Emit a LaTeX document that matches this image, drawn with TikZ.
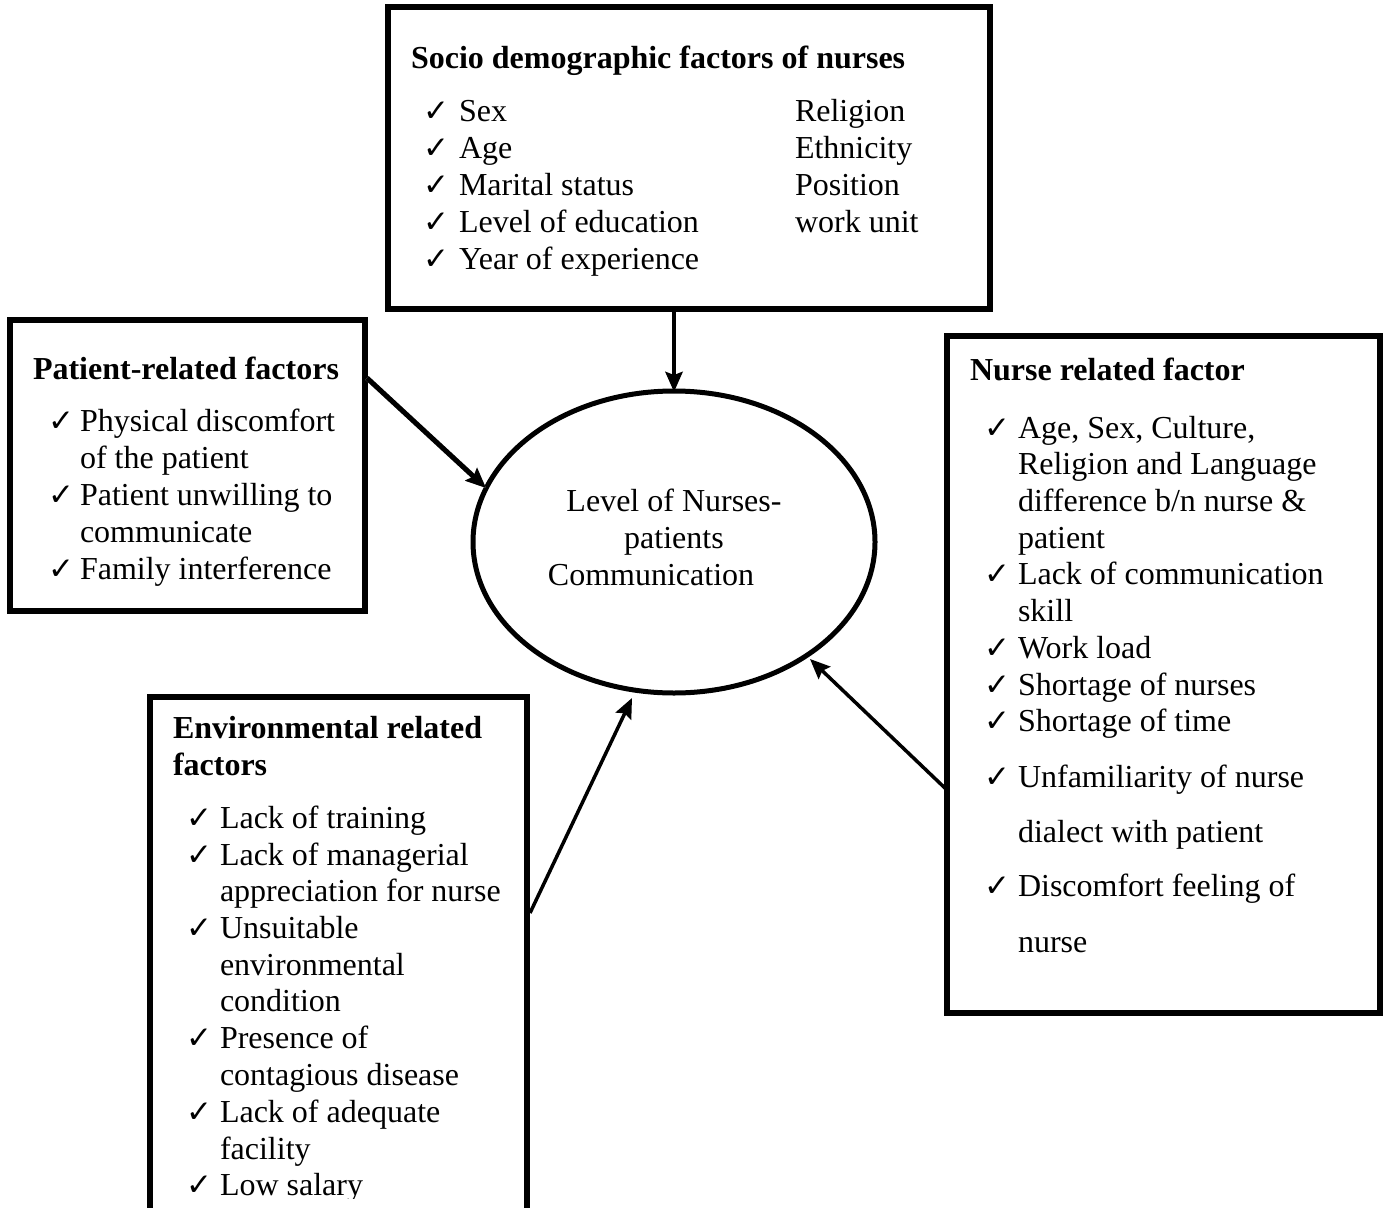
\documentclass[tikz,border=0pt]{standalone}
\usepackage{fontspec}
\setmainfont{Liberation Serif}
\newfontfamily\symf{DejaVu Sans}
\usetikzlibrary{arrows.meta,shapes.geometric}
\tikzset{
  box/.style={draw=black,line width=6pt},
  txt/.style={inner sep=0pt,outer sep=0pt,anchor=base west,font=\fontsize{32}{37}\selectfont},
  ttl/.style={txt,font=\fontsize{32}{37}\selectfont\bfseries},
  ctxt/.style={txt,anchor=base},
  ck/.style={txt,font=\fontsize{31}{37}\selectfont\symf\bfseries},
  conn/.style={line width=3.5pt,-{Stealth[length=20pt,width=17pt,inset=3pt]}},
}
\newcommand\tline[4]{\node[txt] (#1) at (#2,#3) {#4};}
\newcommand\cmark[3]{\node[ck] (#1) at (#2,#3) {✓};}
\begin{document}
\begin{tikzpicture}[x=1pt,y=-1pt]
\clip (0,0) rectangle (1383,1207);
\fill[white] (0,0) rectangle (1383,1207);
% boxes
\draw[box] (388,7) rectangle (990,309);
\coordinate (topbot) at (674,309);
\draw[box] (10,320) rectangle (365,611);
\draw[box] (947,336) rectangle (1380,1013);
\draw[box] (150,697) rectangle (527,1240);
% ellipse
\node[draw,line width=5pt,ellipse,minimum width=402pt,minimum height=302pt,inner sep=0pt] (ell) at (674,542) {};
% connector endpoints
\coordinate (ptA) at (367,378);
\coordinate (ptB) at (486,488);
\coordinate (enA) at (530,913);
\coordinate (enB) at (632,698);
\coordinate (nuA) at (947,790);
\coordinate (nuB) at (810,659);
\coordinate (tpB) at (674,392);
% connectors
\draw[conn,line width=4.5pt] (topbot) -- (tpB);
\draw[conn,line width=5pt,gray!55,shift={(-2.5pt,-3pt)}] (ptA) -- (ptB);
\draw[conn,line width=5pt] (ptA) -- (ptB);
\draw[conn] (enA) -- (enB);
\draw[conn] (nuA) -- (nuB);
\begin{scope}[yshift=-2pt]
\node[ctxt] (e1) at (674,509) {Level of Nurses-};
\node[ctxt] (e2) at (674,546) {patients};
\node[ctxt] (e3) at (651,583) {Communication};
% top box
\node[ttl] (t0) at (411,67) {Socio demographic factors of nurses};
\cmark{tc1}{423}{119}\tline{tt1}{459}{119}{Sex}
\cmark{tc2}{423}{156}\tline{tt2}{459}{156}{Age}
\cmark{tc3}{423}{193}\tline{tt3}{459}{193}{Marital status}
\cmark{tc4}{423}{230}\tline{tt4}{459}{230}{Level of education}
\cmark{tc5}{423}{267}\tline{tt5}{459}{267}{Year of experience}
\tline{tr1}{795}{119}{Religion}
\tline{tr2}{795}{156}{Ethnicity}
\tline{tr3}{795}{193}{Position}
\tline{tr4}{795}{230}{work unit}
% patient box
\node[ttl] (p0) at (33,377) {Patient-related factors};
\cmark{pc1}{48}{429}\tline{pt1}{80}{429}{Physical discomfort}
\tline{pt2}{80}{466}{of the patient}
\cmark{pc3}{48}{503}\tline{pt3}{80}{503}{Patient unwilling to}
\tline{pt4}{80}{540}{communicate}
\cmark{pc5}{48}{577}\tline{pt5}{80}{577}{Family interference}
% nurse box
\node[ttl] (n0) at (970,378) {Nurse related factor};
\cmark{nc1}{984}{436}\tline{nt1}{1018}{436}{Age, Sex, Culture,}
\tline{nt2}{1018}{472}{Religion and Language}
\tline{nt3}{1018}{509}{difference b/n nurse \&}
\tline{nt4}{1018}{546}{patient}
\cmark{nc5}{984}{582}\tline{nt5}{1018}{582}{Lack of communication}
\tline{nt6}{1018}{619}{skill}
\cmark{nc7}{984}{656}\tline{nt7}{1018}{656}{Work load}
\cmark{nc8}{984}{693}\tline{nt8}{1018}{693}{Shortage of nurses}
\cmark{nc9}{984}{729}\tline{nt9}{1018}{729}{Shortage of time}
\cmark{nc10}{984}{785}\tline{nt10}{1018}{785}{Unfamiliarity of nurse}
\tline{nt11}{1018}{840}{dialect with patient}
\cmark{nc12}{984}{894}\tline{nt12}{1018}{894}{Discomfort feeling of}
\tline{nt13}{1018}{950}{nurse}
% environmental box
\node[ttl] (v0) at (173,736) {Environmental related};
\node[ttl] (v0b) at (173,773) {factors};
\cmark{vc1}{186}{826}\tline{vt1}{220}{826}{Lack of training}
\cmark{vc2}{186}{863}\tline{vt2}{220}{863}{Lack of managerial}
\tline{vt3}{220}{899}{appreciation for nurse}
\cmark{vc4}{186}{936}\tline{vt4}{220}{936}{Unsuitable}
\tline{vt5}{220}{973}{environmental}
\tline{vt6}{220}{1009}{condition}
\cmark{vc7}{186}{1046}\tline{vt7}{220}{1046}{Presence of}
\tline{vt8}{220}{1083}{contagious disease}
\cmark{vc9}{186}{1120}\tline{vt9}{220}{1120}{Lack of adequate}
\tline{vt10}{220}{1157}{facility}
\begin{scope}
\clip (160,1150) rectangle (520,1196);
\cmark{vc11}{186}{1193}\tline{vt11}{220}{1193}{Low salary}
\end{scope}
\end{scope}
\end{tikzpicture}
\end{document}
